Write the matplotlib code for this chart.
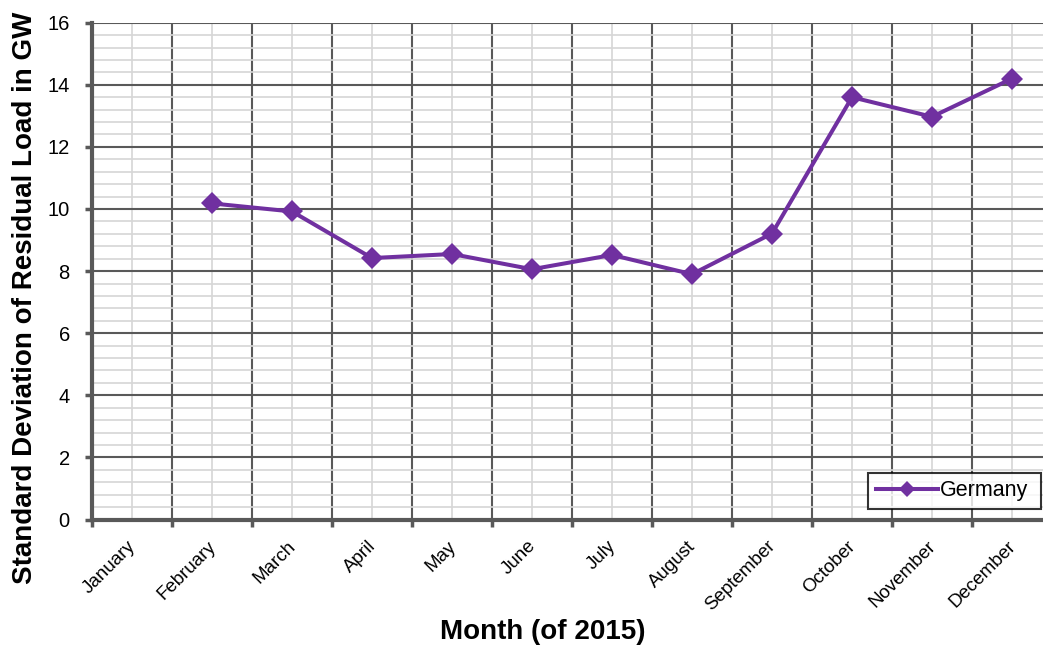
import matplotlib
matplotlib.use("Agg")
import matplotlib.pyplot as plt
import matplotlib.transforms as mtransforms
import numpy as np
from matplotlib.ticker import MultipleLocator, FixedLocator, NullFormatter, FixedFormatter

months = ["January", "February", "March", "April", "May", "June", "July",
          "August", "September", "October", "November", "December"]
germany = [np.nan, 10.18, 9.92, 8.42, 8.55, 8.06, 8.52, 7.90, 9.21, 13.60, 12.97, 14.20]

plt.rcParams["font.family"] = ["Liberation Sans", "DejaVu Sans"]

W, H = 1043, 648
fig = plt.figure(figsize=(W / 100, H / 100), dpi=100)
fig.patch.set_facecolor("white")

x0, x1 = 92, 1052
y0, y1 = 519.5, 22.7
ax = fig.add_axes([x0 / W, (H - y0) / H, (x1 - x0) / W, (y0 - y1) / H])

xpos = np.arange(len(months)) + 0.5
ax.set_xlim(0, len(months))
ax.set_ylim(0, 16)

major_c = "#595959"
minor_c = "#d6d6d6"

# x: boundaries as major (dark grid, outward ticks), centres as minor (labels)
ax.xaxis.set_major_locator(FixedLocator(np.arange(0, len(months) + 1)))
ax.xaxis.set_major_formatter(NullFormatter())
ax.xaxis.set_minor_locator(FixedLocator(xpos))
ax.xaxis.set_minor_formatter(FixedFormatter(months))

ax.yaxis.set_major_locator(MultipleLocator(2))
ax.yaxis.set_minor_locator(MultipleLocator(0.4))

ax.grid(which="minor", color=minor_c, linewidth=1.2, zorder=0)
ax.grid(which="major", color=major_c, linewidth=1.5, zorder=1)
ax.set_axisbelow(True)

ax.tick_params(axis="x", which="major", length=5, width=2.5, color=major_c, direction="out")
ax.tick_params(axis="x", which="minor", length=0, labelsize=13.5, pad=13)
ax.tick_params(axis="y", which="major", length=5, width=2.5, color=major_c,
               direction="out", labelsize=14.5, pad=11)
ax.tick_params(axis="y", which="minor", length=0)

shift = mtransforms.ScaledTranslation(-5 / 100, 0, fig.dpi_scale_trans)
for lab in ax.xaxis.get_minorticklabels():
    lab.set_rotation(45)
    lab.set_ha("right")
    lab.set_va("top")
    lab.set_rotation_mode("anchor")
    lab.set_transform(lab.get_transform() + shift)

for side in ("top", "right"):
    ax.spines[side].set_visible(False)
for side in ("left", "bottom"):
    ax.spines[side].set_color(major_c)
    ax.spines[side].set_linewidth(3)
    ax.spines[side].set_zorder(3)

line, = ax.plot(xpos, germany, color="#7030A0", linewidth=2.9, marker="D",
                markersize=11, markeredgewidth=0, label="Germany", zorder=4,
                clip_on=False)

ax.set_xlabel("Month (of 2015)", fontsize=20, fontweight="bold", labelpad=4)
fig.text(25 / W, 1 - 0.5 * (5 + 590) / H, "Standard Deviation of Residual Load in GW",
         rotation=90, fontsize=20, fontweight="bold", ha="center", va="center",
         transform=fig.transFigure)
ax.xaxis.set_label_coords((543 - x0) / (x1 - x0), -(632 - y0) / (y0 - y1))
ax.xaxis.label.set_va("center")

leg = ax.legend(loc="lower left",
                bbox_to_anchor=((868 - x0) / (x1 - x0), (y0 - 509) / (y0 - y1),
                                (1041 - 868) / (x1 - x0), (509 - 466) / (y0 - y1)),
                mode="expand", fontsize=15.5, frameon=True, fancybox=False,
                shadow=False, handlelength=2.9, borderaxespad=0, borderpad=0.35,
                handletextpad=0.1, markerscale=0.7)
frame = leg.get_frame()
frame.set_edgecolor("black")
frame.set_linewidth(1.5)
frame.set_facecolor("white")

fig.savefig("out.png", dpi=100, facecolor="white")
